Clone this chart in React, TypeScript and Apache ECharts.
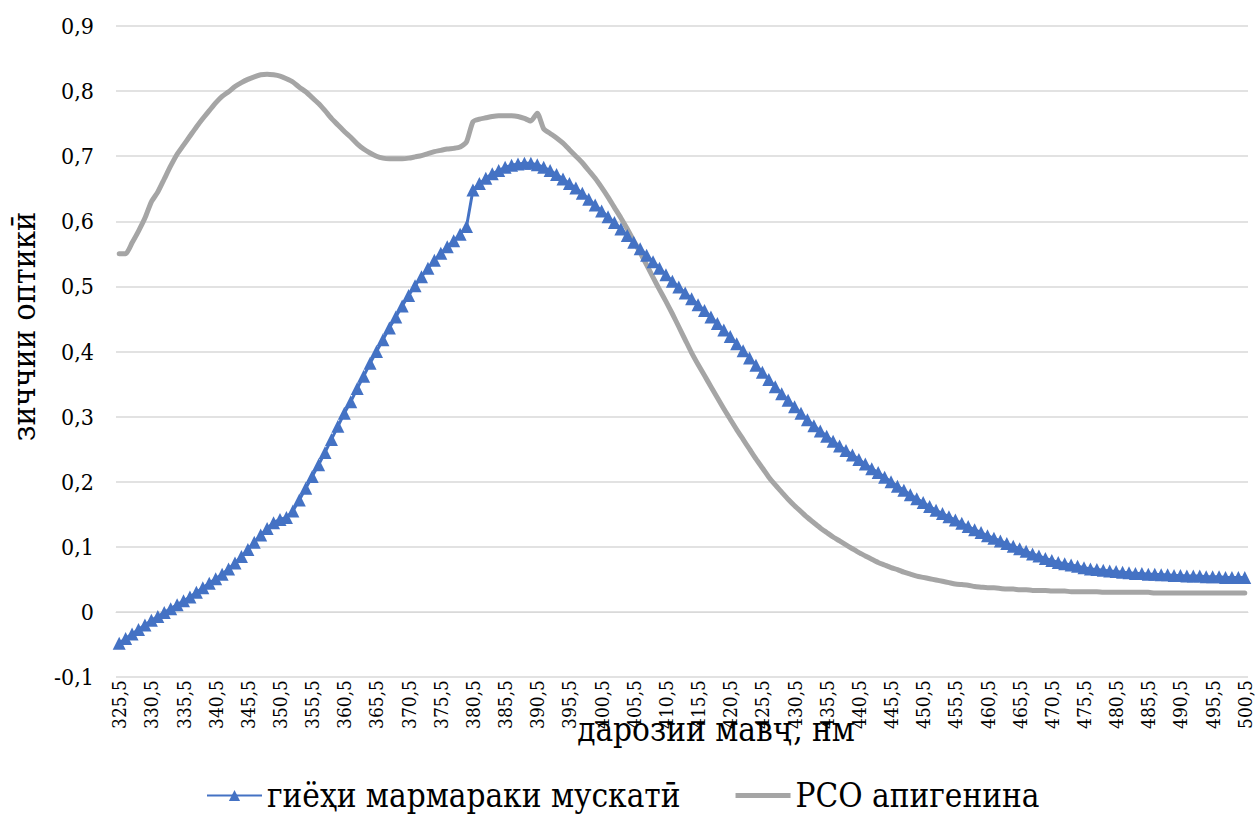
import React, { useEffect, useRef } from "react";
import * as echarts from "echarts";

// wavelength, nm (category axis)
const wavelengths = [
  325.5, 326.5, 327.5, 328.5, 329.5, 330.5, 331.5, 332.5, 333.5, 334.5,
  335.5, 336.5, 337.5, 338.5, 339.5, 340.5, 341.5, 342.5, 343.5, 344.5,
  345.5, 346.5, 347.5, 348.5, 349.5, 350.5, 351.5, 352.5, 353.5, 354.5,
  355.5, 356.5, 357.5, 358.5, 359.5, 360.5, 361.5, 362.5, 363.5, 364.5,
  365.5, 366.5, 367.5, 368.5, 369.5, 370.5, 371.5, 372.5, 373.5, 374.5,
  375.5, 376.5, 377.5, 378.5, 379.5, 380.5, 381.5, 382.5, 383.5, 384.5,
  385.5, 386.5, 387.5, 388.5, 389.5, 390.5, 391.5, 392.5, 393.5, 394.5,
  395.5, 396.5, 397.5, 398.5, 399.5, 400.5, 401.5, 402.5, 403.5, 404.5,
  405.5, 406.5, 407.5, 408.5, 409.5, 410.5, 411.5, 412.5, 413.5, 414.5,
  415.5, 416.5, 417.5, 418.5, 419.5, 420.5, 421.5, 422.5, 423.5, 424.5,
  425.5, 426.5, 427.5, 428.5, 429.5, 430.5, 431.5, 432.5, 433.5, 434.5,
  435.5, 436.5, 437.5, 438.5, 439.5, 440.5, 441.5, 442.5, 443.5, 444.5,
  445.5, 446.5, 447.5, 448.5, 449.5, 450.5, 451.5, 452.5, 453.5, 454.5,
  455.5, 456.5, 457.5, 458.5, 459.5, 460.5, 461.5, 462.5, 463.5, 464.5,
  465.5, 466.5, 467.5, 468.5, 469.5, 470.5, 471.5, 472.5, 473.5, 474.5,
  475.5, 476.5, 477.5, 478.5, 479.5, 480.5, 481.5, 482.5, 483.5, 484.5,
  485.5, 486.5, 487.5, 488.5, 489.5, 490.5, 491.5, 492.5, 493.5, 494.5,
  495.5, 496.5, 497.5, 498.5, 499.5, 500.5,
];

// "гиёҳи мармараки мускатӣ" (blue, triangles)
const nutmegExtract = [
  -0.048, -0.041, -0.034, -0.027, -0.02, -0.013, -0.007, -0.001, 0.005, 0.011,
  0.017, 0.023, 0.03, 0.037, 0.044, 0.051, 0.058, 0.066, 0.075, 0.085,
  0.096, 0.107, 0.118, 0.128, 0.137, 0.142, 0.145, 0.155, 0.172, 0.19,
  0.208, 0.226, 0.245, 0.265, 0.285, 0.305, 0.323, 0.343, 0.362, 0.382,
  0.4, 0.418, 0.436, 0.453, 0.47, 0.486, 0.501, 0.515, 0.528, 0.54,
  0.551, 0.561, 0.57, 0.58, 0.592, 0.648, 0.658, 0.666, 0.673, 0.678,
  0.683, 0.686, 0.688, 0.689, 0.689, 0.687, 0.683, 0.678, 0.672, 0.665,
  0.658, 0.651, 0.643, 0.634, 0.625, 0.616, 0.607, 0.598, 0.588, 0.578,
  0.568, 0.558, 0.548, 0.538, 0.528, 0.518, 0.508, 0.499, 0.49, 0.481,
  0.472, 0.463, 0.453, 0.443, 0.433, 0.423, 0.412, 0.401, 0.39, 0.379,
  0.368, 0.357, 0.346, 0.335, 0.325, 0.315, 0.305, 0.295, 0.286, 0.278,
  0.27, 0.262, 0.255, 0.248, 0.241, 0.234, 0.227, 0.22, 0.214, 0.207,
  0.2, 0.193, 0.187, 0.18, 0.174, 0.168, 0.162, 0.156, 0.151, 0.146,
  0.141, 0.136, 0.131, 0.126, 0.122, 0.117, 0.113, 0.109, 0.105, 0.101,
  0.097, 0.093, 0.089, 0.086, 0.082, 0.079, 0.076, 0.074, 0.072, 0.07,
  0.068, 0.066, 0.065, 0.064, 0.063, 0.062, 0.061, 0.06, 0.059, 0.059,
  0.058, 0.058, 0.057, 0.057, 0.056, 0.056, 0.055, 0.055, 0.055, 0.054,
  0.054, 0.054, 0.053, 0.053, 0.053, 0.053,
];

// "РСО апигенина" (grey line)
const apigeninRSO = [
  0.55, 0.55, 0.567, 0.585, 0.605, 0.63, 0.645, 0.665, 0.685, 0.703,
  0.717, 0.731, 0.745, 0.758, 0.77, 0.782, 0.792, 0.799, 0.807, 0.813,
  0.818, 0.822, 0.825, 0.826, 0.825, 0.823, 0.819, 0.814, 0.806, 0.799,
  0.79, 0.781, 0.77, 0.758, 0.748, 0.738, 0.729, 0.719, 0.711, 0.705,
  0.7, 0.697, 0.696, 0.696, 0.696, 0.697, 0.699, 0.701, 0.704, 0.707,
  0.709, 0.711, 0.712, 0.714, 0.722, 0.753, 0.757, 0.759, 0.761, 0.762,
  0.762, 0.762, 0.761, 0.758, 0.754, 0.766, 0.742, 0.735, 0.728, 0.72,
  0.71, 0.7, 0.69, 0.678, 0.666, 0.652, 0.637, 0.621, 0.605, 0.588,
  0.57, 0.552, 0.533, 0.514, 0.495, 0.477, 0.458, 0.438, 0.418, 0.398,
  0.38, 0.363, 0.346, 0.329, 0.312, 0.296, 0.28, 0.265, 0.25, 0.235,
  0.221, 0.207, 0.195, 0.184, 0.173, 0.163, 0.154, 0.145, 0.137, 0.129,
  0.122, 0.115, 0.109, 0.103, 0.097, 0.091, 0.086, 0.081, 0.076, 0.072,
  0.068, 0.065, 0.061, 0.058, 0.055, 0.053, 0.051, 0.049, 0.047, 0.045,
  0.043, 0.042, 0.041, 0.039, 0.038, 0.037, 0.037, 0.036, 0.035, 0.035,
  0.034, 0.034, 0.033, 0.033, 0.033, 0.032, 0.032, 0.032, 0.031, 0.031,
  0.031, 0.031, 0.031, 0.03, 0.03, 0.03, 0.03, 0.03, 0.03, 0.03,
  0.03, 0.029, 0.029, 0.029, 0.029, 0.029, 0.029, 0.029, 0.029, 0.029,
  0.029, 0.029, 0.029, 0.029, 0.029, 0.029,
];

const seriesNames = ["гиёҳи мармараки мускатӣ", "РСО апигенина"];
const xAxisTitle = "дарозии мавҷ, нм";
const yAxisTitle = "зиччии оптикӣ";
const yMin = -0.1;
const yMax = 0.9;
const yStep = 0.1;

const FONT = "DejaVu Serif Condensed, DejaVu Serif";

const fmtComma = (v: number, digits: number) => {
  if (Math.abs(v) < 1e-9) return "0";
  return v.toFixed(digits).replace(".", ",");
};

export default function App() {
  const ref = useRef<HTMLDivElement>(null);

  useEffect(() => {
    if (!ref.current) return;
    const chart = echarts.init(ref.current, null, { renderer: "svg" });
    chart.setOption({
      animation: false,
      backgroundColor: "#ffffff",
      textStyle: { fontFamily: FONT, color: "#000" },
      grid: { left: 114, right: 11, top: 26, bottom: 137, containLabel: false },
      legend: {
        data: [
          { name: seriesNames[0] },
          { name: seriesNames[1], icon: "path://M0,0 L55,0 L55,5 L0,5 Z" },
        ],
        top: 774,
        left: 201,
        itemWidth: 55,
        itemHeight: 14,
        itemGap: 55,
        textStyle: { fontFamily: FONT, fontSize: 33, color: "#000" },
      },
      xAxis: {
        type: "category",
        data: wavelengths.map((w) => fmtComma(w, 1)),
        boundaryGap: true,
        axisLine: { show: true, onZero: true, lineStyle: { color: "#D9D9D9", width: 1 } },
        axisTick: { show: false },
        splitLine: { show: false },
        axisLabel: {
          interval: 4,
          rotate: 90,
          fontSize: 19,
          color: "#000",
          margin: 3,
          fontFamily: FONT,
        },
        name: xAxisTitle,
        nameLocation: "middle",
        nameGap: 36,
        nameMoveOverlap: false,
        nameTextStyle: {
          fontSize: 33,
          color: "#000",
          fontFamily: FONT,
          padding: [0, 0, 0, 68],
        },
      },
      yAxis: {
        type: "value",
        min: yMin,
        max: yMax,
        interval: yStep,
        axisLine: { show: false },
        axisTick: { show: false },
        splitLine: { show: true, lineStyle: { color: "#D9D9D9", width: 1.5 } },
        axisLabel: {
          fontSize: 23,
          color: "#000",
          margin: 22,
          fontFamily: FONT,
          formatter: (v: number) => fmtComma(v, 1),
        },
        name: yAxisTitle,
        nameLocation: "middle",
        nameGap: 76,
        nameRotate: 90,
        nameMoveOverlap: false,
        nameTextStyle: {
          fontSize: 32,
          color: "#000",
          fontFamily: FONT,
          padding: [0, 0, 0, 50],
        },
      },
      series: [
        {
          name: seriesNames[0],
          type: "line",
          data: nutmegExtract,
          symbol: "triangle",
          symbolSize: 13,
          showSymbol: true,
          showAllSymbol: true,
          itemStyle: { color: "#4472C4" },
          lineStyle: { color: "#4472C4", width: 3 },
        },
        {
          name: seriesNames[1],
          type: "line",
          data: apigeninRSO,
          showSymbol: false,
          symbol: "none",
          smooth: 0.2,
          itemStyle: { color: "#A5A5A5" },
          lineStyle: { color: "#A5A5A5", width: 5, cap: "round", join: "round" },
        },
      ],
    });
    return () => chart.dispose();
  }, []);

  return (
    <div
      ref={ref}
      style={{ position: "fixed", left: 0, top: 0, width: 1259, height: 814, background: "#fff" }}
    />
  );
}
